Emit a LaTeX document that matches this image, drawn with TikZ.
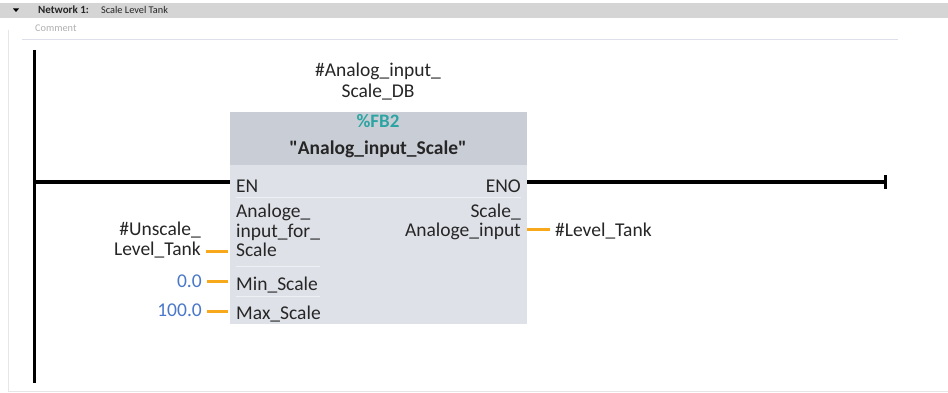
\documentclass[tikz,border=0pt]{standalone}
\usepackage{fontspec}
\setmainfont{Carlito}[Ligatures=TeXOff]
\definecolor{hdrgray}{HTML}{D5D5D5}
\definecolor{cmtline}{HTML}{DDE0EA}
\definecolor{framegray}{HTML}{E6E6E6}
\definecolor{blkhead}{HTML}{C9CDD6}
\definecolor{blkbody}{HTML}{DFE1E8}
\definecolor{blksep}{HTML}{EEF0F4}
\definecolor{fbteal}{HTML}{2BA5A2}
\definecolor{wireorange}{HTML}{F7A81B}
\definecolor{valblue}{HTML}{4A78C8}
\definecolor{txtdark}{HTML}{262626}
\definecolor{cmtgray}{HTML}{B0B0B0}
\begin{document}
\begin{tikzpicture}[x=1pt,y=-1pt,
  lbl/.style={inner sep=0pt, text=txtdark, font=\fontsize{19.5}{20}\selectfont},
  vlbl/.style={lbl, text=valblue},
  rungline/.style={line width=3pt, black},
  owire/.style={line width=3pt, wireorange},
  sepline/.style={line width=1pt, blksep}]
\useasboundingbox (0,0) rectangle (948,393);
\fill[white] (0,0) rectangle (948,393);
% header bar
\fill[hdrgray] (0,3) rectangle (948,18);
\fill[black] (13,8.5) -- (19,8.5) -- (16,12) -- cycle;
\node[anchor=base west, inner sep=0pt, text=txtdark, font=\bfseries\fontsize{11}{11}\selectfont] (net) at (38,14) {Network 1:};
\node[anchor=base west, inner sep=0pt, text=txtdark, font=\fontsize{10.3}{10}\selectfont] (title) at (101,14) {Scale Level Tank};
\node[anchor=base west, inner sep=0pt, text=cmtgray, font=\fontsize{10.3}{10}\selectfont] (cmt) at (35,32) {Comment};
\draw[cmtline, line width=1pt] (22,40) -- (898,40);
\draw[framegray, line width=1pt] (8,30) -- (8,391) -- (948,391);
% block
\node[anchor=north west, inner sep=0pt, fill=blkbody, minimum width=297pt, minimum height=212pt] (blk) at (230,112) {};
\node[anchor=north west, inner sep=0pt, fill=blkhead, minimum width=297pt, minimum height=53pt] (blkhd) at (230,112) {};
\node[lbl, anchor=base, text=fbteal, font=\bfseries\fontsize{19}{19}\selectfont] (fb) at (378,128) {\%FB2};
\node[lbl, anchor=base, font=\bfseries\fontsize{19.5}{20}\selectfont] (fbname) at (378,155) {"Analog\_input\_Scale"};
\node[lbl, anchor=base] (db1) at (378,77) {\#Analog\_input\_};
\node[lbl, anchor=base] (db2) at (378,98) {Scale\_DB};
% separators
\draw[sepline] (236,197) -- (521,197);
\draw[sepline] (236,266) -- (320,266);
\draw[sepline] (236,296) -- (320,296);
% pin labels
\node[lbl, anchor=base west] (en) at (236,193) {EN};
\node[lbl, anchor=base east] (eno) at (521,193) {ENO};
\node[lbl, anchor=base west] (pin1a) at (236,217) {Analoge\_};
\node[lbl, anchor=base west] (pin1b) at (236,237) {input\_for\_};
\node[lbl, anchor=base west] (pin1c) at (236,256) {Scale};
\node[lbl, anchor=base west] (pin2) at (236,290) {Min\_Scale};
\node[lbl, anchor=base west] (pin3) at (236,319) {Max\_Scale};
\node[lbl, anchor=base east] (out1a) at (521,217) {Scale\_};
\node[lbl, anchor=base east] (out1b) at (521,236) {Analoge\_input};
% pins
\coordinate (pinEN) at (230,182);
\coordinate (pinENO) at (527,182);
\coordinate (pinIn1) at (228,251);
\coordinate (pinIn2) at (228,281);
\coordinate (pinIn3) at (228,311);
\coordinate (pinOut) at (527,229);
% rail and rung
\coordinate (railtop) at (34,50);
\coordinate (railbot) at (34,383);
\coordinate (railrung) at (34,182);
\coordinate (rungend) at (885,182);
\draw[rungline] (railtop) -- (railbot);
\draw[rungline] (railrung) -- (pinEN);
\draw[rungline] (pinENO) -- (rungend);
\draw[rungline] ([yshift=-6.5pt]rungend) -- ([yshift=6.5pt]rungend);
% actual parameters
\node[lbl, anchor=base east] (act1a) at (201,235) {\#Unscale\_};
\node[lbl, anchor=base east] (act1b) at (201,255) {Level\_Tank};
\node[vlbl, anchor=base east] (act2) at (202,287) {0.0};
\node[vlbl, anchor=base east] (act3) at (202,316) {100.0};
\node[lbl, anchor=base west] (actout) at (555,236) {\#Level\_Tank};
\draw[owire] ([xshift=5pt]act1b.east |- pinIn1) -- (pinIn1);
\draw[owire] ([xshift=5pt]act2.east |- pinIn2) -- (pinIn2);
\draw[owire] ([xshift=5pt]act3.east |- pinIn3) -- (pinIn3);
\draw[owire] (pinOut) -- ([xshift=-5pt]actout.west |- pinOut);
\end{tikzpicture}
\end{document}
